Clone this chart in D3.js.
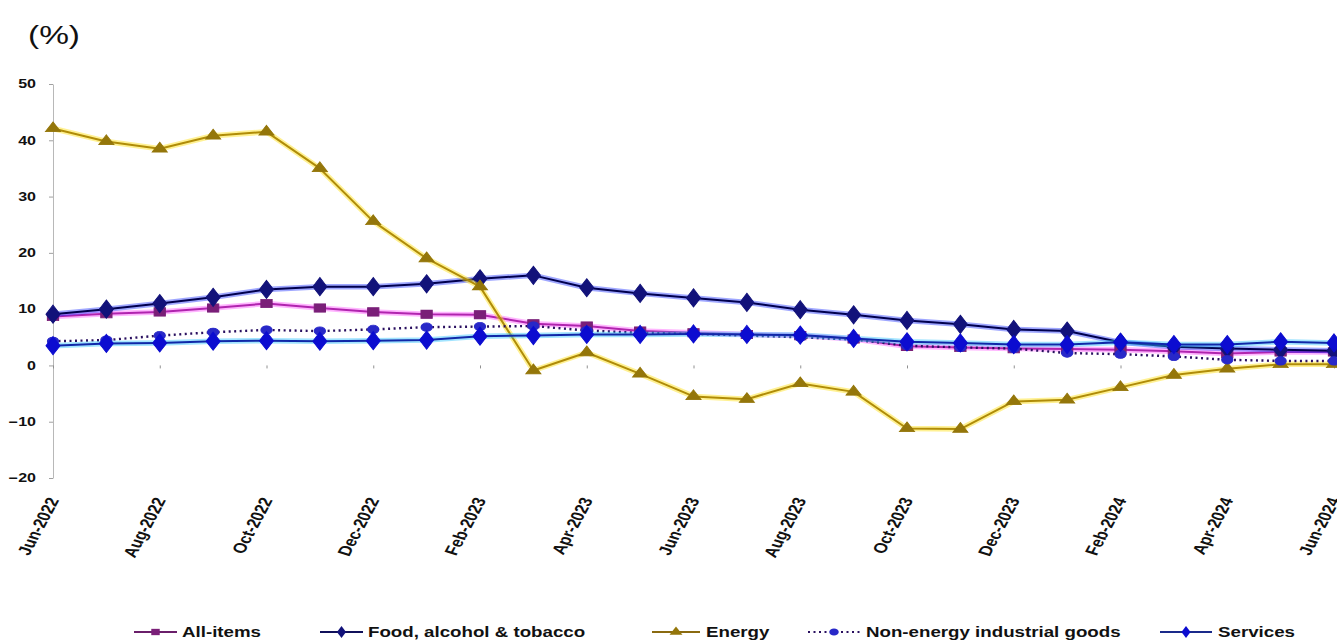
<!DOCTYPE html>
<html>
<head>
<meta charset="utf-8">
<script src="https://cdn.jsdelivr.net/npm/d3@7"></script>
<style>
  html, body { margin: 0; padding: 0; background: #fff; }
  svg { display: block; }
  text { font-family: "Liberation Sans", Arial, sans-serif; fill: #111; }
</style>
</head>
<body>
<svg id="chart" width="1337" height="642"></svg>
<script>
// Monthly annual rates of change, Jun-2022 to Jun-2024
const months = [
  "Jun-2022","Jul-2022","Aug-2022","Sep-2022","Oct-2022","Nov-2022","Dec-2022",
  "Jan-2023","Feb-2023","Mar-2023","Apr-2023","May-2023","Jun-2023","Jul-2023",
  "Aug-2023","Sep-2023","Oct-2023","Nov-2023","Dec-2023","Jan-2024","Feb-2024",
  "Mar-2024","Apr-2024","May-2024","Jun-2024"
];
const allItems  = [8.7, 9.2, 9.5, 10.2, 11.0, 10.2, 9.5, 9.1, 9.0, 7.4, 7.0, 6.1, 5.8, 5.5, 5.3, 4.7, 3.4, 3.2, 3.0, 2.9, 2.8, 2.5, 2.1, 2.4, 2.4];
const food      = [9.1, 10.0, 11.0, 12.1, 13.5, 14.0, 14.0, 14.5, 15.4, 16.0, 13.8, 12.8, 12.0, 11.2, 9.9, 9.0, 8.0, 7.3, 6.4, 6.1, 4.1, 3.3, 3.0, 2.8, 2.6];
const energy    = [42.1, 39.8, 38.5, 40.8, 41.5, 35.0, 25.6, 19.0, 14.0, -0.9, 2.3, -1.5, -5.5, -6.0, -3.2, -4.7, -11.2, -11.3, -6.4, -6.1, -3.9, -1.7, -0.6, 0.2, 0.2];
const nonEnergy = [4.3, 4.5, 5.3, 5.9, 6.3, 6.1, 6.4, 6.8, 6.9, 7.0, 6.2, 5.8, 5.6, 5.3, 5.0, 4.6, 3.5, 3.2, 3.0, 2.2, 2.0, 1.6, 1.0, 0.8, 0.8];
const services  = [3.5, 3.9, 4.0, 4.3, 4.4, 4.3, 4.4, 4.5, 5.2, 5.3, 5.5, 5.5, 5.6, 5.5, 5.4, 4.8, 4.2, 4.0, 3.7, 3.7, 4.1, 3.7, 3.7, 4.2, 4.0];
const yTicks = [-20, -10, 0, 10, 20, 30, 40, 50];
const xTickLabels = months.filter((d, i) => i % 2 === 0);

const series = [
  { name: "All-items", values: allItems, line: "#b024ae", halo: "#ff5cff", marker: "#7a1f78", shape: "square", legendLine: "#6a1f6a" },
  { name: "Food, alcohol & tobacco", values: food, line: "#00004e", halo: "#2a3cff", marker: "#12127a", shape: "diamond", legendLine: "#10105a" },
  { name: "Energy", values: energy, line: "#b08c08", halo: "#ffdf10", marker: "#94760a", shape: "triangle", legendLine: "#8a6a10" },
  { name: "Non-energy industrial goods", values: nonEnergy, line: "#2a1060", halo: null, marker: "#2828c8", shape: "circle", dotted: true, legendLine: "#2a1060" },
  { name: "Services", values: services, line: "#1028a8", halo: "#30c4ff", marker: "#0c0cd0", shape: "diamond", legendLine: "#1a2a8a" }
];

const SX = 1.337; // horizontal stretch of the whole drawing
const svg = d3.select("#chart");

const x = d3.scalePoint().domain(months).range([53, 1334]);
const y = d3.scaleLinear().domain([-20, 50]).range([478, 84]);

// unit label
svg.append("text")
  .attr("transform", `translate(28,44) scale(${SX},1)`)
  .style("font-size", "25px")
  .text("(%)");

// y axis
const yAxis = svg.append("g")
  .attr("transform", "translate(53,0)")
  .call(d3.axisLeft(y).tickValues(yTicks).tickSize(4).tickSizeOuter(0));
yAxis.select(".domain").attr("stroke", "#b8b8b8");
yAxis.selectAll(".tick line").attr("stroke", "#a0a0a0");
yAxis.selectAll(".tick text")
  .attr("x", 0)
  .attr("transform", `translate(-17,0) scale(${SX},1)`)
  .style("font-size", "12px")
  .style("font-weight", "bold");

// x axis at zero
const xAxis = svg.append("g")
  .attr("transform", `translate(0,${y(0)})`)
  .call(d3.axisBottom(x).tickValues(xTickLabels).tickSize(3).tickSizeOuter(0));
xAxis.select(".domain").remove();
xAxis.selectAll(".tick line").attr("stroke", "#909090");
xAxis.selectAll(".tick text")
  .attr("x", 0).attr("y", 0).attr("dy", 0)
  .attr("text-anchor", "end")
  .attr("transform", `translate(6,${500 - y(0)}) scale(${SX},1) rotate(-68)`)
  .style("font-size", "14px")
  .style("font-weight", "bold");

// marker shapes
function markerPath(shape) {
  const types = { square: d3.symbolSquare, diamond: d3.symbolDiamond, triangle: d3.symbolTriangle, circle: d3.symbolCircle };
  const sizes = { square: 70, diamond: 95, triangle: 55, circle: 55 };
  return d3.symbol().type(types[shape]).size(sizes[shape])();
}

const lineGen = d3.line().x((d, i) => x(months[i])).y(d => y(d));

const plot = svg.append("g");
series.forEach(s => {
  const g = plot.append("g");
  if (s.halo) {
    g.append("path").datum(s.values)
      .attr("d", lineGen).attr("fill", "none")
      .attr("stroke", s.halo).attr("stroke-width", 5.5)
      .attr("stroke-opacity", 0.45).attr("stroke-linejoin", "round");
  }
  g.append("path").datum(s.values)
    .attr("d", lineGen).attr("fill", "none")
    .attr("stroke", s.line).attr("stroke-width", s.dotted ? 2.4 : 2)
    .attr("stroke-dasharray", s.dotted ? "2,3.5" : null)
    .attr("stroke-linejoin", "round");
  g.selectAll("path.mk").data(s.values).join("path")
    .attr("class", "mk")
    .attr("d", markerPath(s.shape))
    .attr("transform", (d, i) => `translate(${x(months[i])},${y(d)}) scale(${SX},1)`)
    .attr("fill", s.marker)
    .attr("stroke", s.marker).attr("stroke-width", 0.8);
});

// legend
const legendY = 632;
const legendPos = [
  { x0: 134, x1: 177, tx: 182 },
  { x0: 320, x1: 363, tx: 368 },
  { x0: 652, x1: 700, tx: 706 },
  { x0: 808, x1: 860, tx: 866 },
  { x0: 1160, x1: 1212, tx: 1218 }
];
const legend = svg.append("g");
series.forEach((s, i) => {
  const p = legendPos[i];
  const g = legend.append("g");
  g.append("line")
    .attr("x1", p.x0).attr("x2", p.x1).attr("y1", legendY).attr("y2", legendY)
    .attr("stroke", s.legendLine).attr("stroke-width", 2)
    .attr("stroke-dasharray", s.dotted ? "2,3.5" : null);
  g.append("path")
    .attr("d", d3.symbol().type(s.shape === "square" ? d3.symbolSquare : s.shape === "triangle" ? d3.symbolTriangle : s.shape === "circle" ? d3.symbolCircle : d3.symbolDiamond).size(40)())
    .attr("transform", `translate(${(p.x0 + p.x1) / 2},${legendY}) scale(${SX},1)`)
    .attr("fill", s.marker);
  g.append("text")
    .attr("transform", `translate(${p.tx},${legendY + 5}) scale(${SX},1)`)
    .style("font-size", "14px")
    .style("font-weight", "bold")
    .text(s.name);
});
</script>
</body>
</html>
